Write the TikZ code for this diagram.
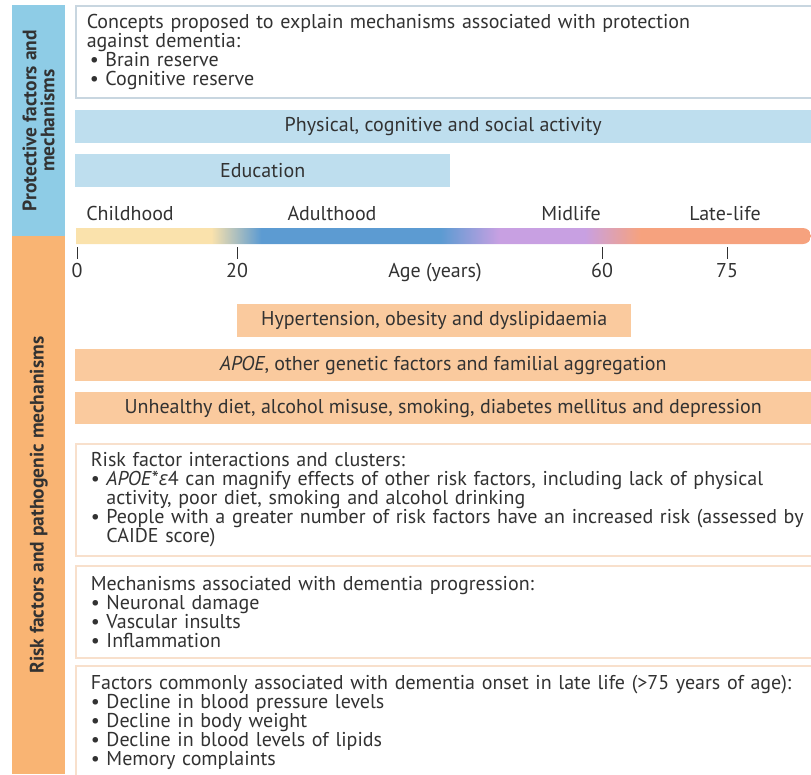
\documentclass[tikz,border=0pt]{standalone}
\usepackage{fontspec}
\setmainfont{PT Sans}
\newfontfamily\greekfont{Open Sans}
\usepackage{xcolor}
\definecolor{dmtext}{RGB}{50,50,50}
\definecolor{dmblue}{RGB}{142,204,230}
\definecolor{dmorange}{RGB}{249,180,115}
\definecolor{protfill}{RGB}{190,222,238}
\definecolor{riskfill}{RGB}{250,202,158}
\definecolor{topline}{RGB}{200,214,224}
\definecolor{riskline}{RGB}{248,224,204}
\definecolor{lifeyel}{RGB}{250,226,172}
\definecolor{lifeblue}{RGB}{92,155,210}
\definecolor{lifepurp}{RGB}{200,160,226}
\definecolor{lifeorg}{RGB}{246,162,126}
\usetikzlibrary{positioning}
% life course colours, middle 50bp cover the bar
\pgfdeclarehorizontalshading{lifecourse}{100bp}{
  color(0bp)=(lifeyel); color(34.2bp)=(lifeyel); color(37.6bp)=(lifeblue);
  color(49.8bp)=(lifeblue); color(53.8bp)=(lifepurp); color(59.6bp)=(lifepurp);
  color(63.4bp)=(lifeorg); color(100bp)=(lifeorg)}
\tikzset{
  sidebar/.style={anchor=north west, minimum width=53pt, inner sep=0pt},
  sidetxt/.style={rotate=90, align=center, font=\fontsize{19.5}{18}\selectfont\bfseries},
  protbar/.style={fill=protfill, anchor=north west, minimum height=33pt, inner sep=0pt},
  riskbar/.style={fill=riskfill, anchor=north west, minimum height=32pt, inner sep=0pt},
  notebox/.style={draw=riskline, line width=1.5pt, fill=white, anchor=north west, align=left,
    minimum width=745pt, inner xsep=15pt, text width=740pt},
  stagelbl/.style={anchor=base},
  tickln/.style={draw=dmtext, line width=0.9pt}
}
\newcommand{\bul}{\textbullet\ }
\newcommand{\bulgap}{\phantom{\textbullet\ }}

\begin{document}
\begin{tikzpicture}[x=1pt, y=-1pt, every node/.style={font=\fontsize{20}{19}\selectfont, text=dmtext}]
  \useasboundingbox (0,0) rectangle (811,774);
  \clip (0,0) rectangle (811,774);
  % side bands
  \node[sidebar, fill=dmblue, minimum height=231pt] (protside) at (12,5) {};
  \node[sidebar, fill=dmorange, minimum height=538pt] (riskside) at (12,236) {};
  \node[sidetxt] at (protside.center) {Protective factors and\\mechanisms};
  \node[sidetxt] at (riskside.center) {Risk factors and pathogenic mechanisms};
  % protective part
  \node[notebox, draw=topline, inner xsep=11pt, minimum height=92pt] (concepts) at (75,5)
    {Concepts proposed to explain mechanisms associated with protection\\
     against dementia:\\
     \hspace{3pt}\bul Brain reserve\\
     \hspace{3pt}\bul Cognitive reserve};
  \node[protbar, minimum width=736pt] (activity) at (75,110) {Physical, cognitive and social activity};
  \node[protbar, minimum width=375pt] (education) at (75,154) {Education};
  % life course
  \node[stagelbl] (child) at (130,220) {Childhood};
  \node[stagelbl] (adult) at (332,220) {Adulthood};
  \node[stagelbl] (mid) at (571,220) {Midlife};
  \node[stagelbl] (late) at (725,220) {Late-life};
  \shade[shading=lifecourse] (76,228) -- (803,228) arc[start angle=-90, end angle=90, radius=8] -- (76,244) -- cycle;
  \foreach \x/\age in {77/0, 237/20, 602/60, 727/75} {
    \coordinate (tick\age) at (\x,247);
    \draw[tickln] (tick\age) -- ++(0,12);
    \node[anchor=base] (age\age) at (\x,277) {\age};
  }
  \node[anchor=base] (agelbl) at (435,277) {Age (years)};
  % risk part
  \node[riskbar, minimum width=394pt, minimum height=33pt] (hyper) at (237,304) {Hypertension, obesity and dyslipidaemia};
  \node[riskbar, minimum width=736pt] (genetic) at (75,349) {\textit{APOE}, other genetic factors and familial aggregation};
  \node[riskbar, minimum width=736pt] (lifestyle) at (75,392) {Unhealthy diet, alcohol misuse, smoking, diabetes mellitus and depression};
  \node[notebox, minimum height=112pt] (clusters) at (75,443)
    {Risk factor interactions and clusters:\\
     \bul\textit{APOE}*{\greekfont\itshape ε}4 can magnify effects of other risk factors, including lack of physical\\
     \bulgap activity, poor diet, smoking and alcohol drinking\\
     \bul People with a greater number of risk factors have an increased risk (assessed by\\
     \bulgap CAIDE score)};
  \node[notebox, minimum height=92pt] (progress) at (75,565)
    {Mechanisms associated with dementia progression:\\
     \bul Neuronal damage\\
     \bul Vascular insults\\
     \bul Inflammation};
  \node[notebox, minimum height=114pt] (onset) at (75,665)
    {Factors commonly associated with dementia onset in late life (>75 years of age):\\
     \bul Decline in blood pressure levels\\
     \bul Decline in body weight\\
     \bul Decline in blood levels of lipids\\
     \bul Memory complaints};
\end{tikzpicture}
\end{document}
